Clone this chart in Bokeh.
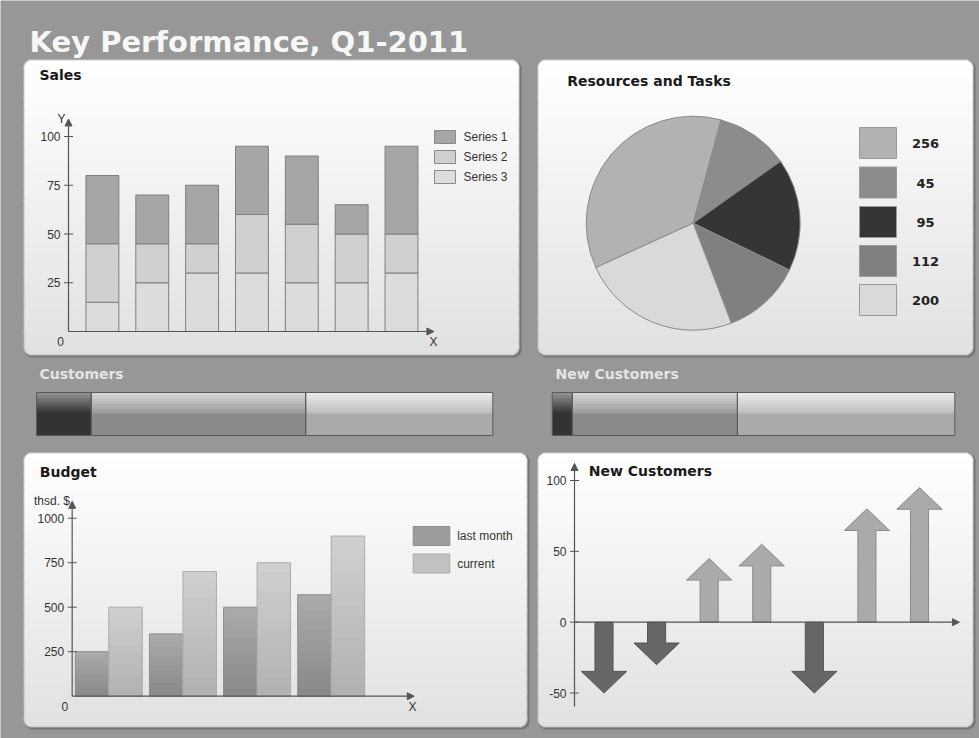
import numpy as np
from bokeh.plotting import figure
from bokeh.models import Range1d, ColumnDataSource, Arrow, NormalHead
from bokeh.core.properties import value
from bokeh.embed import file_html
from bokeh.resources import INLINE

# ---------------- data ----------------
title_text = "Key Performance, Q1-2011"

sales_title = "Sales"
sales_series = ["Series 1", "Series 2", "Series 3"]
sales_s3 = [15, 25, 30, 30, 25, 25, 30]      # bottom segment
sales_s2 = [30, 20, 15, 30, 30, 25, 20]      # middle segment
sales_s1 = [35, 25, 30, 35, 35, 15, 45]      # top segment
sales_ticks = [25, 50, 75, 100]

res_title = "Resources and Tasks"
res_labels = ["256", "45", "95", "112", "200"]
res_share = [36, 11, 17, 12, 24]             # slice shares (percent)

cust_title = "Customers"
cust_parts = [12, 47, 41]
newcust_title = "New Customers"
newcust_parts = [5, 41, 54]

budget_title = "Budget"
budget_series = ["last month", "current"]
budget_last = [250, 350, 500, 570]
budget_current = [500, 700, 750, 900]
budget_ticks = [250, 500, 750, 1000]
budget_unit = "thsd. $"

arrows_title = "New Customers"
arrow_values = [-50, -30, 45, 55, -50, 80, 95]
arrow_ticks = [100, 50, 0, -50]

# ---------------- styles ----------------
W, H = 979, 738
BG = "#979797"
AX = "#555555"
LBL = "#333333"
sales_colors = ["#a6a6a6", "#d0d0d0", "#dcdcdc"]
res_colors = ["#b2b2b2", "#8c8c8c", "#353535", "#808080", "#d9d9d9"]

p = figure(width=W, height=H, x_range=Range1d(0, W), y_range=Range1d(0, H),
           output_backend="svg", toolbar_location=None,
           x_axis_type=None, y_axis_type=None, min_border=0,
           outline_line_color=None, background_fill_color=BG,
           border_fill_color=BG)

xrs, yrs = {}, {}


def xmap(name, v1, p1, v2, p2):
    u = (v2 - v1) / (p2 - p1)
    s = v1 - p1 * u
    xrs[name] = Range1d(s, s + W * u)


def ymap(name, v1, p1, v2, p2):
    q1, q2 = H - p1, H - p2
    u = (v2 - v1) / (q2 - q1)
    s = v1 - q1 * u
    yrs[name] = Range1d(s, s + H * u)


def T(py):
    return H - py


def rgb(h):
    h = h.lstrip("#")
    return tuple(int(h[i:i + 2], 16) for i in (0, 2, 4))


def hexc(c):
    return "#%02x%02x%02x" % tuple(int(round(v)) for v in c)


def mix(c0, c1, f):
    return tuple(c0[i] + (c1[i] - c0[i]) * f for i in range(3))


# ---------------- panel backgrounds ----------------
bg = dict(left=[], right=[], top=[], bottom=[], color=[])


def rounded(l, t, r, b, rad, c0, c1):
    segs = []
    for py in range(t, b):
        a = py - t + 0.5
        z = b - py - 0.5
        d = max(rad - a, rad - z, 0)
        ins = rad - np.sqrt(max(rad * rad - d * d, 0.0)) if d > 0 else 0.0
        f = (py - t) / max(b - t - 1, 1)
        col = hexc(mix(c0, c1, f))
        key = (round(ins, 2), col)
        if segs and segs[-1][0] == key:
            segs[-1][2] = py + 1
        else:
            segs.append([key, py, py + 1])
    n = len(segs)
    half = n // 2
    order = list(range(half)) + list(range(n - 1, half - 1, -1))
    for j in order:
        (ins, col), y0, y1 = segs[j]
        if j < half:
            y1 = min(y1 + 1, b)
        else:
            y0 = max(y0 - 1, t)
        bg["left"].append(l + ins)
        bg["right"].append(r - ins)
        bg["top"].append(T(y0))
        bg["bottom"].append(T(y1))
        bg["color"].append(col)


panels = [(23, 59, 519, 355), (537, 59, 973, 355), (23, 452, 527, 727), (537, 452, 973, 727)]
for (l, t, r, b) in panels:
    rounded(l + 1, t + 1, r + 2, b + 2, 8, (118, 118, 118), (118, 118, 118))
    rounded(l, t, r, b, 8, (205, 205, 205), (185, 185, 185))
    rounded(l + 1, t + 1, r - 1, b - 1, 7, (255, 255, 255), (225, 225, 225))

p.quad(source=ColumnDataSource(bg), left="left", right="right", top="top",
       bottom="bottom", fill_color="color", line_color=None)


def txt(x, y, s, size=12, color=LBL, font="Liberation Sans", style="normal",
        align="left", baseline="middle", xr="default", yr="default", xoff=0):
    xs = list(x) if isinstance(x, (list, tuple, np.ndarray)) else [x]
    ys = list(y) if isinstance(y, (list, tuple, np.ndarray)) else [y]
    ss = list(s) if isinstance(s, (list, tuple)) else [s]
    p.text(x=xs, y=ys, text=ss, text_font=value(font), text_font_size=f"{size}px",
           text_color=color, text_font_style=style, text_align=align,
           text_baseline=baseline, x_range_name=xr, y_range_name=yr, x_offset=xoff)


def axis_arrow(x0, y0, x1, y1, xr, yr):
    p.add_layout(Arrow(x_start=x0, y_start=y0, x_end=x1, y_end=y1,
                       line_color=AX, line_width=1.2,
                       end=NormalHead(size=7, fill_color=AX, line_color=AX),
                       x_range_name=xr, y_range_name=yr))


# ---------------- title ----------------
txt(29, T(41.5), title_text, size=29, color="#f7f7f7", font="DejaVu Sans",
    style="bold", baseline="alphabetic")

# ---------------- Sales ----------------
xmap("sx", 0, 101.9, 6, 401.0)
ymap("sy", 0, 331, 100, 136)
idx = np.arange(len(sales_s3))
s3 = np.array(sales_s3); s2 = np.array(sales_s2); s1 = np.array(sales_s1)
for bot, top, col in [(0 * s3, s3, sales_colors[2]), (s3, s3 + s2, sales_colors[1]),
                      (s3 + s2, s3 + s2 + s1, sales_colors[0])]:
    p.vbar(x=idx, width=0.66, bottom=bot, top=top, fill_color=col,
           line_color="#7f7f7f", line_width=1, x_range_name="sx", y_range_name="sy")
ax_x = -0.68
axis_arrow(ax_x, 0, ax_x, 109, "sx", "sy")
axis_arrow(ax_x, 0, 6.65, 0, "sx", "sy")
p.scatter(x=[ax_x] * len(sales_ticks), y=sales_ticks, marker="dash", size=9,
          line_color=AX, x_range_name="sx", y_range_name="sy")
txt([ax_x] * len(sales_ticks), sales_ticks, [str(v) for v in sales_ticks],
    align="right", xr="sx", yr="sy", xoff=-8)
txt(61, T(118), "Y", align="center")
txt(60, T(341), "0", align="center")
txt(433, T(341), "X", align="center")
txt(39, T(74), sales_title, size=14, color="#1a1a1a", font="DejaVu Sans", style="bold")
leg_y = [130, 150, 170]
p.quad(left=[434] * 3, right=[455] * 3, top=[T(v) for v in leg_y],
       bottom=[T(v + 13) for v in leg_y], fill_color=sales_colors, line_color="#8a8a8a")
txt([463] * 3, [T(v + 6.5) for v in leg_y], sales_series)

# ---------------- Resources pie ----------------
cx, cy, rad = 692.7, T(222.7), 107
sh = np.array(res_share, dtype=float)
ang = sh / sh.sum() * 2 * np.pi
cum = np.cumsum(ang)
a0 = np.radians(204.5)
ends = a0 - np.concatenate([[0], cum[:-1]])
starts = a0 - cum
p.wedge(x=[cx] * len(sh), y=[cy] * len(sh), radius=rad, radius_units="screen",
        start_angle=starts, end_angle=ends, fill_color=res_colors,
        line_color="#8a8a8a", line_width=1)
txt(566.7, T(80), res_title, size=14, color="#1a1a1a", font="DejaVu Sans", style="bold")
ptop = [127, 166.5, 206, 245, 284]
p.quad(left=[859] * 5, right=[896] * 5, top=[T(v) for v in ptop],
       bottom=[T(v + 31) for v in ptop], fill_color=res_colors, line_color="#9a9a9a")
txt([925] * 5, [T(v + 16) for v in ptop], res_labels, size=13, color="#222222",
    font="DejaVu Sans", style="bold", align="center")

# ---------------- Customers bars ----------------
seg_styles = [("#8e8e8e", "#383838", "#333333"),
              ("#d4d4d4", "#9e9e9e", "#8a8a8a"),
              ("#e9e9e9", "#c0c0c0", "#aaaaaa")]


def glossy(name, parts, x0p, x100p):
    xmap(name, 0, x0p, 100, x100p)
    vals = np.array(parts, dtype=float)
    rights = np.cumsum(vals)
    lefts = rights - vals
    topy, midy, boty = 392, 413, 435
    n = 7
    for j in range(len(vals)):
        c_top, c_mid, c_bot = [rgb(c) for c in seg_styles[j]]
        ys = np.linspace(topy, midy, n + 1)
        cols = [hexc(mix(c_top, c_mid, k / (n - 1))) for k in range(n)]
        p.quad(left=[lefts[j]] * n, right=[rights[j]] * n, top=[T(v) for v in ys[:-1]],
               bottom=[T(v + 1) for v in ys[1:]], fill_color=cols, line_color=None,
               x_range_name=name)
        p.quad(left=[lefts[j]], right=[rights[j]], top=[T(midy)], bottom=[T(boty)],
               fill_color=hexc(c_bot), line_color=None, x_range_name=name)
    p.quad(left=lefts, right=rights, top=[T(topy)] * len(vals), bottom=[T(boty)] * len(vals),
           fill_color=None, line_color="#5a5a5a", line_width=1, x_range_name=name)


glossy("cx", cust_parts, 36, 492.3)
glossy("nx", newcust_parts, 551.7, 954.3)
txt(39, T(373.5), cust_title, size=14, color="#e4e4e4", font="DejaVu Sans", style="bold")
txt(555, T(373.5), newcust_title, size=14, color="#e4e4e4", font="DejaVu Sans", style="bold")

# ---------------- Budget ----------------
xmap("bx", 0, 108.3, 3, 330.7)
ymap("by", 0, 695.7, 1000, 517.7)
bw = 0.452
nb = 14
for vals, off, ctop, cbot, lc in [(budget_last, -bw, (170, 170, 170), (137, 137, 137), "#8e8e8e"),
                                   (budget_current, 0, (207, 207, 207), (178, 178, 178), "#acacac")]:
    L, R, TP, BT, C = [], [], [], [], []
    for i, v in enumerate(vals):
        edges = np.linspace(0, v, nb + 1)
        for k in range(nb):
            L.append(i + off); R.append(i + off + bw)
            BT.append(edges[k]); TP.append(min(edges[k + 1] + 8, v))
            C.append(hexc(mix(cbot, ctop, k / (nb - 1))))
    p.quad(left=L, right=R, top=TP, bottom=BT, fill_color=C, line_color=None,
           x_range_name="bx", y_range_name="by")
    ii = np.arange(len(vals))
    p.quad(left=ii + off, right=ii + off + bw, top=vals, bottom=[0] * len(vals),
           fill_color=None, line_color=lc, x_range_name="bx", y_range_name="by")
bax = -0.494
axis_arrow(bax, 0, bax, 1095, "bx", "by")
axis_arrow(bax, 0, 4.12, 0, "bx", "by")
p.scatter(x=[bax] * len(budget_ticks), y=budget_ticks, marker="dash", size=9,
          line_color=AX, x_range_name="bx", y_range_name="by")
txt([bax] * len(budget_ticks), budget_ticks, [str(v) for v in budget_ticks],
    align="right", xr="bx", yr="by", xoff=-8)
txt(69.5, T(500), budget_unit, align="right")
txt(64.3, T(706), "0", align="center")
txt(412, T(706), "X", align="center")
txt(39.3, T(471.5), budget_title, size=14, color="#1a1a1a", font="DejaVu Sans", style="bold")
bl_y = [526, 553.5]
p.quad(left=[412.7] * 2, right=[449.3] * 2, top=[T(v) for v in bl_y],
       bottom=[T(v + 19) for v in bl_y], fill_color=["#9c9c9c", "#c2c2c2"],
       line_color=["#8e8e8e", "#acacac"])
txt([456.7] * 2, [T(v + 9.5) for v in bl_y], budget_series)

# ---------------- New customers arrows ----------------
xmap("ax", 0, 603.5, 6, 919.0)
ymap("ay", 0, 621.7, 100, 480.0)
sw, hw, hl = 0.172, 0.43, 15.3
xs, ys, fc, lc = [], [], [], []
for i, v in enumerate(arrow_values):
    s = 1 if v > 0 else -1
    base = v - s * hl
    xs.append([i - sw, i - sw, i - hw, i, i + hw, i + sw, i + sw])
    ys.append([0, base, base, v, base, base, 0])
    fc.append("#aaaaaa" if v > 0 else "#666666")
    lc.append("#8a8a8a" if v > 0 else "#555555")
p.patches(xs=xs, ys=ys, fill_color=fc, line_color=lc, line_width=1,
          x_range_name="ax", y_range_name="ay")
aax = -0.561
p.segment(x0=[aax], y0=[-59.5], x1=[aax], y1=[0], line_color=AX, line_width=1.2,
          x_range_name="ax", y_range_name="ay")
axis_arrow(aax, 0, aax, 112, "ax", "ay")
axis_arrow(aax, 0, 6.76, 0, "ax", "ay")
p.scatter(x=[aax] * len(arrow_ticks), y=arrow_ticks, marker="dash", size=9,
          line_color=AX, x_range_name="ax", y_range_name="ay")
txt([aax] * len(arrow_ticks), arrow_ticks, [str(v) for v in arrow_ticks],
    align="right", xr="ax", yr="ay", xoff=-8)
txt(588.3, T(470.5), arrows_title, size=14, color="#1a1a1a", font="DejaVu Sans", style="bold")

p.extra_x_ranges = xrs
p.extra_y_ranges = yrs

open("out.html", "w").write(file_html(p, INLINE))
